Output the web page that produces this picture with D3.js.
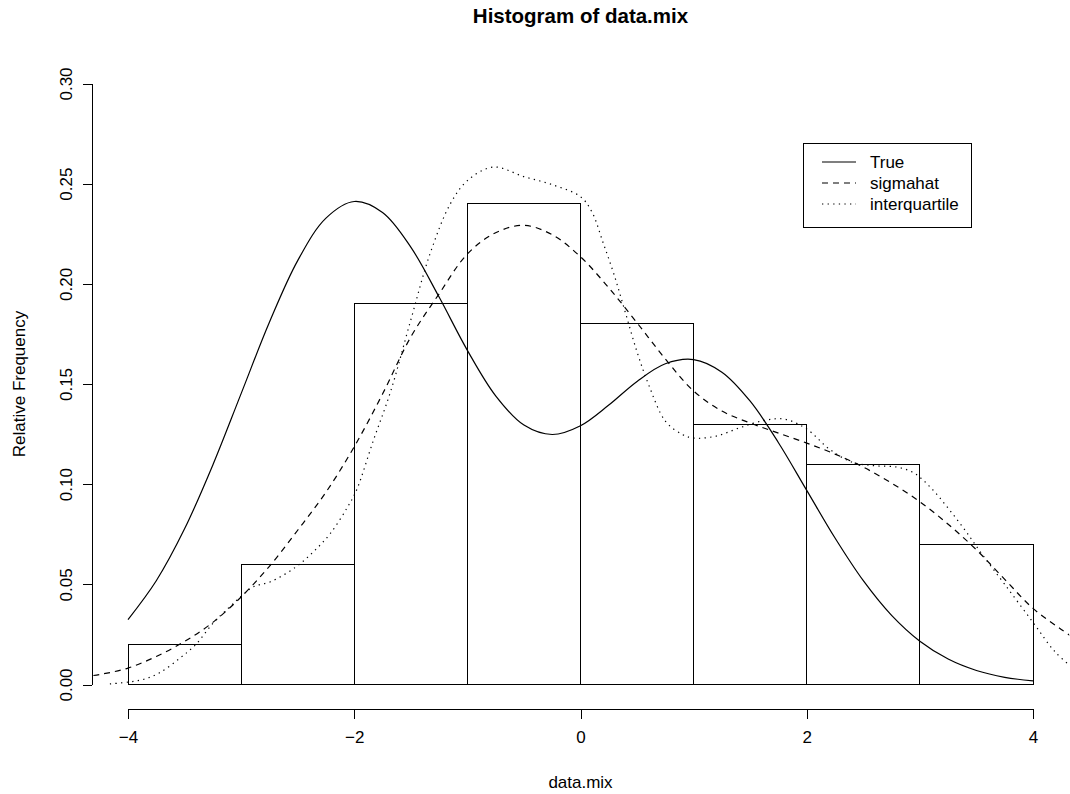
<!DOCTYPE html>
<html lang="en">
<head>
  <meta charset="UTF-8">
  <title>Histogram of data.mix</title>
  <style>
    body { margin: 0; background: #fff; }
    svg { display: block; font-family: "Liberation Sans", Arial, Helvetica, sans-serif; }
    .axis path, .axis line { stroke: #000; stroke-width: 1; shape-rendering: crispEdges; }
    .axis text { font-size: 17px; fill: #000; }
    .bar { fill: #fff; stroke: #000; stroke-width: 1; shape-rendering: crispEdges; }
    .curve { fill: none; stroke: #000; stroke-width: 1.2; }
  </style>
</head>
<body>
<div id="chart"></div>
<script src="https://d3js.org/d3.v7.min.js"></script>
<script>
  // histogram bins (relative frequency)
  const binEdges = [-4, -3, -2, -1, 0, 1, 2, 3, 4]
  const relFreq = [0.02, 0.06, 0.19, 0.24, 0.18, 0.13, 0.11, 0.07]

  // true density
  const trueX = [-4, -3.75, -3.5, -3.25, -3, -2.75, -2.5, -2.25, -2, -1.75, -1.5, -1.25, -1, -0.75, -0.5, -0.25,
    0, 0.25, 0.5, 0.75, 1, 1.25, 1.5, 1.75, 2, 2.25, 2.5, 2.75, 3, 3.25, 3.5, 3.75, 4]
  const trueY = [0.0324, 0.0518, 0.0777, 0.1096, 0.1452, 0.1808, 0.2116, 0.2328, 0.2411, 0.2356, 0.2183, 0.1934,
    0.1668, 0.1441, 0.1295, 0.1248, 0.1292, 0.1395, 0.1513, 0.1601, 0.1622, 0.1559, 0.1414, 0.1207, 0.0969,
    0.0731, 0.0518, 0.0345, 0.0216, 0.0127, 0.0070, 0.0036, 0.0018]

  // kernel estimate with sigmahat bandwidth (dashed)
  const sigmaX = [-4.5, -4.25, -4, -3.75, -3.5, -3.25, -3, -2.75, -2.5, -2.25, -2, -1.75, -1.5, -1.25, -1, -0.75,
    -0.5, -0.25, 0, 0.25, 0.5, 0.75, 1, 1.25, 1.5, 1.75, 2, 2.25, 2.5, 2.75, 3, 3.25, 3.5, 3.75, 4, 4.25, 4.5]
  const sigmaY = [0.003, 0.005, 0.0082, 0.014, 0.0215, 0.031, 0.0437, 0.059, 0.077, 0.096, 0.1187, 0.145, 0.1735,
    0.195, 0.2149, 0.2255, 0.2292, 0.2245, 0.2135, 0.198, 0.1805, 0.1625, 0.1465, 0.1365, 0.1305, 0.1255, 0.1205,
    0.115, 0.1085, 0.1005, 0.0912, 0.080, 0.0672, 0.0525, 0.038, 0.0275, 0.018]

  // kernel estimate with interquartile bandwidth (dotted)
  const iqrX = [-4.16, -4, -3.86, -3.72, -3.54, -3.4, -3.25, -3.1, -3, -2.89, -2.74, -2.52, -2.36, -2.21, -2.06,
    -1.98, -1.83, -1.68, -1.5, -1.33, -1.15, -1, -0.77, -0.5, -0.25, 0, 0.1, 0.2, 0.3, 0.4, 0.5, 0.6, 0.75, 0.9,
    1, 1.2, 1.4, 1.6, 1.8, 2, 2.2, 2.4, 2.6, 2.8, 2.95, 3.1, 3.25, 3.4, 3.55, 3.75, 4, 4.2, 4.4]
  const iqrY = [0.0003, 0.0012, 0.0026, 0.0059, 0.0132, 0.020, 0.0305, 0.0388, 0.044, 0.0488, 0.0513, 0.0585,
    0.0663, 0.0755, 0.0885, 0.097, 0.122, 0.146, 0.182, 0.215, 0.240, 0.2515, 0.2583, 0.2535, 0.2495, 0.2435,
    0.236, 0.2205, 0.204, 0.185, 0.166, 0.150, 0.1315, 0.1248, 0.123, 0.124, 0.128, 0.1315, 0.1325, 0.1275,
    0.1175, 0.111, 0.1092, 0.1085, 0.1055, 0.098, 0.088, 0.077, 0.065, 0.050, 0.031, 0.016, 0.006]

  const xTicks = [-4, -2, 0, 2, 4]
  const yTicks = [0, 0.05, 0.10, 0.15, 0.20, 0.25, 0.30]
  const legendLabels = ['True', 'sigmahat', 'interquartile']

  const W = 1070, H = 794

  const x = d3.scaleLinear().domain([-4, 4]).range([128, 1033])
  const y = d3.scaleLinear().domain([0, 0.3]).range([684.5, 83.5])

  // plot region (R extends the range by 4%)
  const pLeft = x(-4.32), pRight = x(4.32), pTop = y(0.312), pBottom = y(-0.012)

  const svg = d3.select('#chart').append('svg')
    .attr('width', W)
    .attr('height', H)

  svg.append('rect').attr('width', W).attr('height', H).attr('fill', '#fff')

  svg.append('defs').append('clipPath')
    .attr('id', 'plotclip')
    .append('rect')
    .attr('x', pLeft).attr('y', pTop)
    .attr('width', pRight - pLeft).attr('height', pBottom - pTop)

  // bars
  svg.append('g').selectAll('rect')
    .data(relFreq)
    .enter()
    .append('rect')
    .attr('class', 'bar')
    .attr('x', (d, i) => x(binEdges[i]))
    .attr('y', d => y(d))
    .attr('width', (d, i) => x(binEdges[i + 1]) - x(binEdges[i]))
    .attr('height', d => y(0) - y(d))

  // density lines
  const line = d3.line()
    .x(d => x(d[0]))
    .y(d => y(d[1]))
    .curve(d3.curveCatmullRom.alpha(0.5))

  const curves = [
    { xs: trueX, ys: trueY, dash: null },
    { xs: sigmaX, ys: sigmaY, dash: '6,5' },
    { xs: iqrX, ys: iqrY, dash: '1.3,4.3' }
  ]

  const gCurves = svg.append('g').attr('clip-path', 'url(#plotclip)')
  curves.forEach(c => {
    gCurves.append('path')
      .attr('class', 'curve')
      .attr('d', line(c.xs.map((v, i) => [v, c.ys[i]])))
      .attr('stroke-dasharray', c.dash)
  })

  // x axis
  const xAxis = d3.axisBottom(x)
    .tickValues(xTicks)
    .tickSize(10)
    .tickSizeOuter(0)
    .tickPadding(8)
    .tickFormat(d3.format('d'))
  svg.append('g')
    .attr('class', 'axis')
    .attr('transform', `translate(0, ${pBottom})`)
    .call(xAxis)
    .call(g => g.selectAll('text').attr('dy', '0.95em'))

  // y axis, labels parallel to the axis
  const yAxis = d3.axisLeft(y)
    .tickValues(yTicks)
    .tickSize(9)
    .tickSizeOuter(0)
    .tickFormat(d3.format('.2f'))
  svg.append('g')
    .attr('class', 'axis')
    .attr('transform', `translate(${pLeft}, 0)`)
    .call(yAxis)
    .call(g => g.selectAll('text')
      .attr('x', null)
      .attr('dy', null)
      .attr('text-anchor', 'middle')
      .attr('transform', 'translate(-20, 0) rotate(-90)'))

  // titles
  svg.append('text')
    .attr('x', (pLeft + pRight) / 2)
    .attr('y', 23)
    .attr('text-anchor', 'middle')
    .style('font-size', '20.5px')
    .style('font-weight', 'bold')
    .text('Histogram of data.mix')

  svg.append('text')
    .attr('x', (pLeft + pRight) / 2)
    .attr('y', 788)
    .attr('text-anchor', 'middle')
    .style('font-size', '17px')
    .text('data.mix')

  svg.append('text')
    .attr('transform', `translate(25, ${(y(0) + y(0.3)) / 2}) rotate(-90)`)
    .attr('text-anchor', 'middle')
    .style('font-size', '17px')
    .text('Relative Frequency')

  // legend
  const legend = svg.append('g')
  legend.append('rect')
    .attr('x', 803.5).attr('y', 143.5)
    .attr('width', 168).attr('height', 84)
    .attr('fill', '#fff').attr('stroke', '#000')

  legendLabels.forEach((lab, i) => {
    const ly = 162 + i * 21
    legend.append('line')
      .attr('x1', 822).attr('x2', 856)
      .attr('y1', ly).attr('y2', ly)
      .attr('stroke', '#000')
      .attr('stroke-width', 1.2)
      .attr('stroke-dasharray', curves[i].dash)
    legend.append('text')
      .attr('x', 870)
      .attr('y', ly + 6)
      .style('font-size', '17px')
      .text(lab)
  })
</script>
</body>
</html>
